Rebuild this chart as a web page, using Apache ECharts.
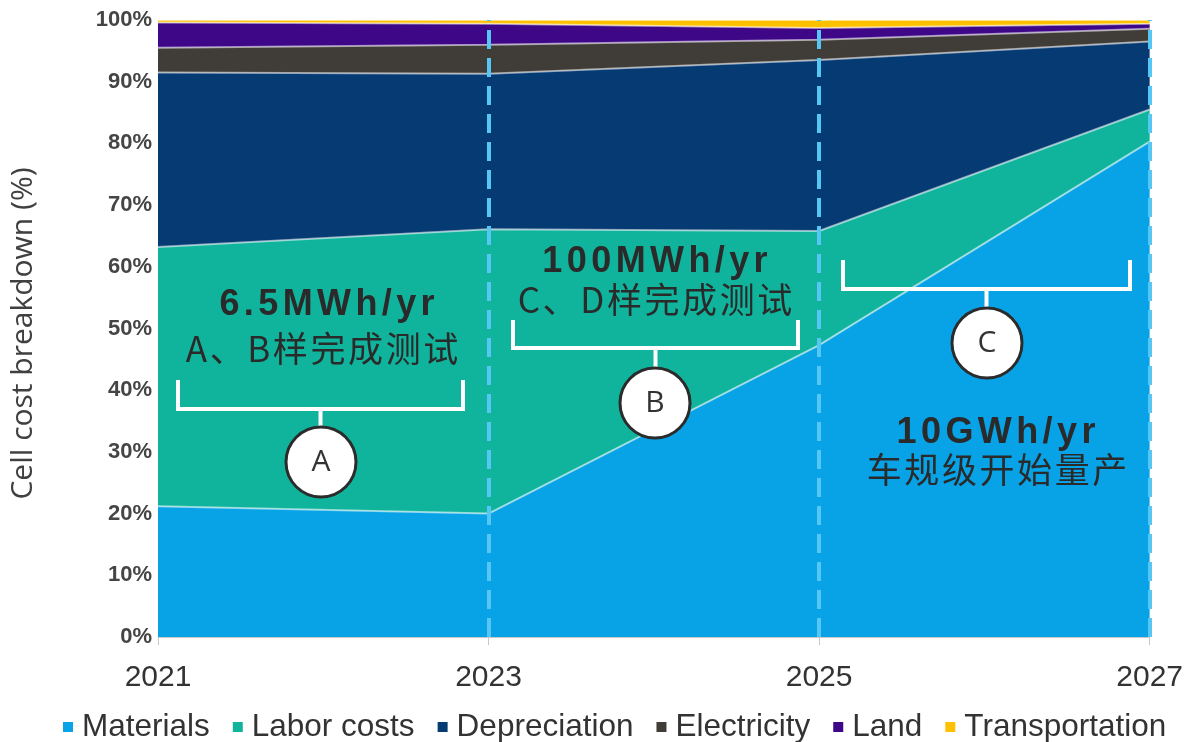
<!DOCTYPE html>
<html>
<head>
<meta charset="utf-8">
<title>Cell cost breakdown</title>
<script src="https://cdn.jsdelivr.net/npm/echarts@6/dist/echarts.min.js"></script>
<style>
  html, body { margin: 0; padding: 0; background: #ffffff; }
  #chart { width: 1186px; height: 742px; }
</style>
</head>
<body>
<div id="chart"></div>
<script>
// Cost share of each component per year (percent of cell cost)
const years = ['2021', '2023', '2025', '2027'];
const materials = [21.2, 20.0, 47.3, 80.3];
const laborCosts = [42.0, 46.1, 18.5, 5.2];
const depreciation = [28.3, 25.2, 27.7, 11.0];
const electricity = [4.0, 4.7, 3.3, 2.1];
const land = [4.1, 3.4, 1.9, 0.8];
const transportation = [0.4, 0.6, 1.3, 0.6];

const seriesNames = ['Materials', 'Labor costs', 'Depreciation', 'Electricity', 'Land', 'Transportation'];
const seriesData = [materials, laborCosts, depreciation, electricity, land, transportation];
const seriesColors = ['#08a3e6', '#10b49c', '#053a73', '#403c38', '#3d0787', '#ffc000'];

// Production stages marked along the timeline
const stageLines = ['2023', '2025', '2027'];

const latin = "'Liberation Sans', Arial, sans-serif";
const cjk = "'Noto Sans CJK SC', 'Liberation Sans', sans-serif";

const chart = echarts.init(document.getElementById('chart'), null, { renderer: 'canvas' });

const series = seriesNames.map((name, i) => ({
  name: name,
  type: 'line',
  stack: 'cost',
  data: seriesData[i],
  symbol: 'none',
  smooth: false,
  lineStyle: { color: 'rgba(255,255,255,0.55)', width: 2 },
  areaStyle: { color: seriesColors[i], opacity: 1 },
  itemStyle: { color: seriesColors[i] },
  z: 2
}));

// dashed stage separators drawn on top of the stacked areas
series.push({
  name: 'stages',
  type: 'line',
  data: [],
  z: 5,
  markLine: {
    silent: true,
    symbol: ['none', 'none'],
    label: { show: false },
    lineStyle: { color: '#56c7f4', width: 4, type: [19, 9], opacity: 1 },
    data: stageLines.map(y => ({ xAxis: y }))
  }
});

// bracket + circled letter + caption for each stage
function bracket(x1, x2, yTop, yBar, stemEnd) {
  const mid = (x1 + x2) / 2;
  return [
    {
      type: 'polyline', z: 20,
      shape: { points: [[x1, yTop], [x1, yBar], [x2, yBar], [x2, yTop]] },
      style: { stroke: '#ffffff', lineWidth: 4, fill: null }
    },
    {
      type: 'line', z: 20,
      shape: { x1: mid, y1: yBar, x2: mid, y2: stemEnd },
      style: { stroke: '#ffffff', lineWidth: 4 }
    }
  ];
}
function badge(cx, cy, letter) {
  return [
    {
      type: 'circle', z: 21,
      shape: { cx: cx, cy: cy, r: 35 },
      style: { fill: '#ffffff', stroke: '#2b2b2b', lineWidth: 3 }
    },
    {
      type: 'text', z: 22, x: cx, y: cy,
      style: {
        text: letter, fill: '#333333', font: "30px 'Open Sans', 'Liberation Sans', sans-serif",
        align: 'center', verticalAlign: 'middle'
      }
    }
  ];
}
// caption with its characters tracked apart (each glyph padded on both sides)
function caption(cx, cy, text, bold) {
  const chars = Array.from(text);
  const pad = bold ? 2.2 : 1.3;
  return {
    type: 'text', z: 22, x: cx, y: cy,
    style: {
      text: chars.map(c => '{c|' + c + '}').join(''),
      rich: {
        c: {
          fill: '#2a2a2a',
          fontFamily: bold ? latin : cjk,
          fontWeight: bold ? 'bold' : 'normal',
          fontSize: bold ? 36 : 35,
          padding: [0, pad, 0, pad]
        }
      },
      align: 'center', verticalAlign: 'middle'
    }
  };
}

const graphics = [].concat(
  caption(327, 305, '6.5MWh/yr', true),
  caption(322, 349, 'A、B样完成测试', false),
  bracket(178, 463, 380, 409, 427),
  badge(321, 462, 'A'),

  caption(655, 262, '100MWh/yr', true),
  caption(655, 300, 'C、D样完成测试', false),
  bracket(513, 798, 320, 348, 367),
  badge(655, 403, 'B'),

  bracket(843, 1130, 260, 289, 307),
  badge(987, 343, 'C'),
  caption(996, 433, '10GWh/yr', true),
  caption(997, 470, '车规级开始量产', false)
);

chart.setOption({
  backgroundColor: '#ffffff',
  animation: false,
  grid: { left: 158, right: 36, top: 20, bottom: 105, containLabel: false },
  legend: {
    data: seriesNames,
    left: 58,
    top: 706,
    icon: 'rect',
    itemWidth: 10,
    itemHeight: 10,
    itemGap: 23,
    textStyle: { fontFamily: latin, fontSize: 31.5, color: '#333333', padding: [0, 0, 0, 4] }
  },
  xAxis: {
    type: 'category',
    data: years,
    boundaryGap: false,
    axisLine: { show: true, lineStyle: { color: '#c8c8c8', width: 1 } },
    axisTick: { show: true, length: 8, lineStyle: { color: '#c8c8c8' } },
    axisLabel: { fontFamily: latin, fontSize: 30, color: '#333333', margin: 26 },
    splitLine: { show: false }
  },
  yAxis: {
    type: 'value',
    min: 0,
    max: 100,
    interval: 10,
    name: 'Cell cost breakdown (%)',
    nameLocation: 'middle',
    nameGap: 120,
    nameRotate: 90,
    nameTextStyle: { fontFamily: "'Open Sans', sans-serif", fontSize: 30, color: '#404040', padding: [0, 10, 0, 0] },
    axisLine: { show: false },
    axisTick: { show: false },
    splitLine: { show: false },
    axisLabel: { formatter: '{value}%', fontFamily: latin, fontSize: 22, fontWeight: 'bold', color: '#454545', margin: 6 }
  },
  series: series,
  graphic: graphics
});
</script>
</body>
</html>
